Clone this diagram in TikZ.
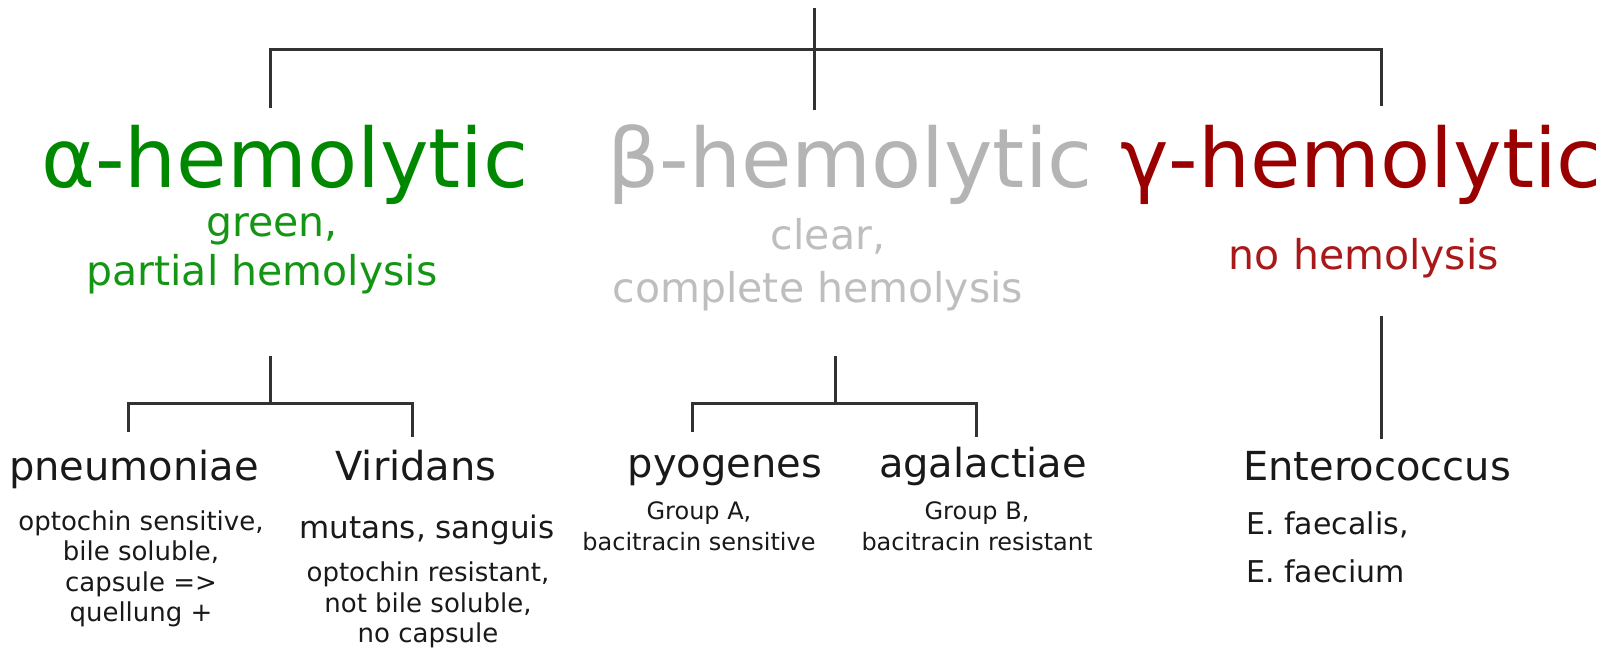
\documentclass[tikz,border=0pt]{standalone}
\usepackage{fontspec}
\setmainfont{DejaVu Sans}
\usetikzlibrary{positioning}
\definecolor{alphagreen}{RGB}{0,136,0}
\definecolor{alphalight}{RGB}{20,150,20}
\definecolor{betagray}{RGB}{180,180,180}
\definecolor{betalight}{RGB}{190,190,190}
\definecolor{gammared}{RGB}{155,0,0}
\definecolor{gammalight}{RGB}{170,25,25}
\definecolor{linkgray}{RGB}{50,50,50}

\begin{document}
\begin{tikzpicture}[x=0.5pt,y=-0.5pt,
  every node/.style={inner sep=0pt,anchor=base,align=center,text=black!90},
  link/.style={draw=linkgray,line width=1.5pt},
  kind/.style={font=\fontsize{41}{49}\selectfont},
  remark/.style={font=\fontsize{20.5}{25}\selectfont},
  species/.style={font=\fontsize{20}{24}\selectfont},
  detail/.style={font=\fontsize{13}{15.25}\selectfont},
  group/.style={font=\fontsize{12}{15.5}\selectfont}]
\useasboundingbox (0,0) rectangle (1612,651);

% hemolysis types (multi-line nodes sit on their last line)
\node [kind,text=alphagreen] (alpha) at (285,188) {α-hemolytic};
\node [kind,text=betagray]   (beta)  at (850,188) {β-hemolytic};
\node [kind,text=gammared]   (gamma) at (1361,188) {γ-hemolytic};
\node [remark,text=alphalight] (alpha-note)  at (272,237) {green,};
\node [remark,text=alphalight] (alpha-note2) at (262,286) {partial hemolysis};
\node [remark,text=betalight]  (beta-note)   at (828,250) {clear,};
\node [remark,text=betalight]  (beta-note2)  at (818,303) {complete hemolysis};
\node [remark,text=gammalight] (gamma-note)  at (1364,270) {no hemolysis};

% species
\node [species] (pneu) at (134,481) {pneumoniae};
\node [species] (viri) at (416,481) {Viridans};
\node [species] (pyo)  at (725,478) {pyogenes};
\node [species] (aga)  at (983,478) {agalactiae};
\node [species] (ent)  at (1377,481) {Enterococcus};

\node [detail] (pneu-info) at (141,622) {optochin sensitive,\\bile soluble,\\capsule =>\\quellung +};
\node [font=\fontsize{15.5}{18}\selectfont] (viri-kinds) at (427,539) {mutans, sanguis};
\node [detail] (viri-info) at (428,643) {optochin resistant,\\not bile soluble,\\no capsule};
\node [group] (pyo-info) at (699,551) {Group A,\\bacitracin sensitive};
\node [group] (aga-info) at (977,551) {Group B,\\bacitracin resistant};
\node [font=\fontsize{15}{24.5}\selectfont,anchor=base west,align=left] (ent-info) at (1246,583) {E. faecalis,\\E. faecium};

% tree
\coordinate (root) at (814,8);
\coordinate (hub) at (814,50);
\coordinate (alpha-top) at (270,108);
\coordinate (beta-top) at (814,110);
\coordinate (gamma-top) at (1381,106);
\draw [link] (root) -- (beta-top);
\draw [link] (alpha-top) |- (hub) -| (gamma-top);

\coordinate (a-stem) at (270,356);
\coordinate (a-hub) at (270,404);
\coordinate (pneu-top) at (128,432);
\coordinate (viri-top) at (412,437);
\draw [link] (a-stem) -- (a-hub);
\draw [link] (pneu-top) |- (a-hub) -| (viri-top);

\coordinate (b-stem) at (835,356);
\coordinate (b-hub) at (835,404);
\coordinate (pyo-top) at (692,432);
\coordinate (aga-top) at (976,437);
\draw [link] (b-stem) -- (b-hub);
\draw [link] (pyo-top) |- (b-hub) -| (aga-top);

\coordinate (g-stem) at (1381,316);
\coordinate (ent-top) at (1381,439);
\draw [link] (g-stem) -- (ent-top);
\end{tikzpicture}
\end{document}
